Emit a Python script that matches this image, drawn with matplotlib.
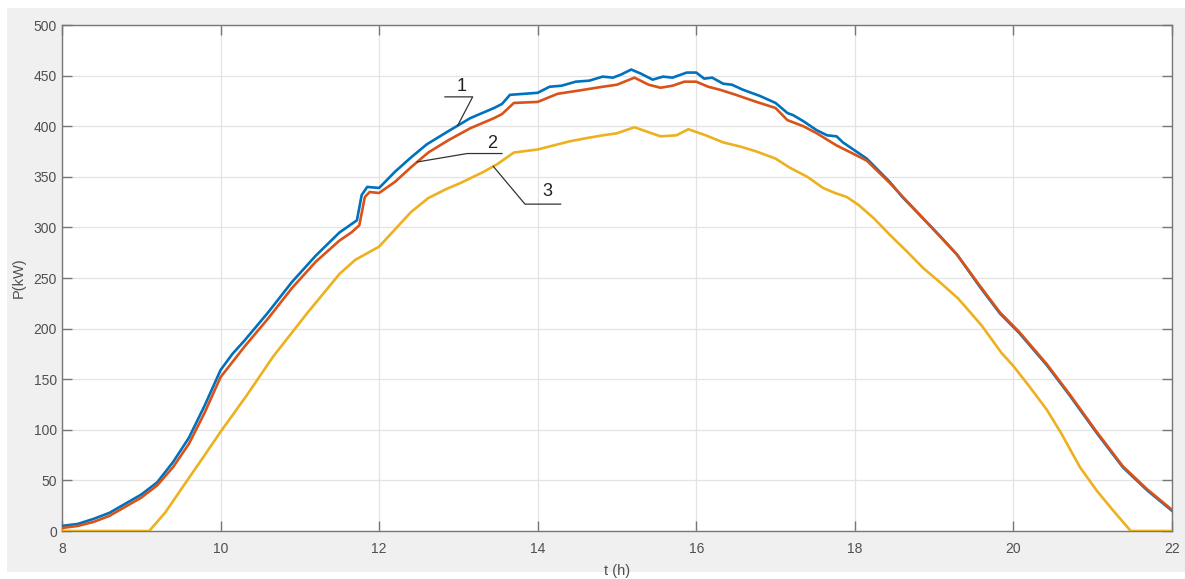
import numpy as np
import matplotlib
matplotlib.use("Agg")
import matplotlib.pyplot as plt
from matplotlib.patches import Rectangle

plt.rcParams['font.family'] = ['Liberation Sans', 'DejaVu Sans']

# curve 1 (blue)
t1 = [8.0, 8.2, 8.4, 8.6, 8.8, 9.0, 9.2, 9.4, 9.6, 9.8, 10.0, 10.15, 10.3, 10.6,
      10.9, 11.2, 11.5, 11.72, 11.78, 11.85, 12.0, 12.2, 12.4, 12.6, 12.85, 13.15,
      13.45, 13.55, 13.65, 14.0, 14.15, 14.3, 14.48, 14.65, 14.82, 14.95, 15.05,
      15.18, 15.3, 15.45, 15.58, 15.7, 15.88, 16.0, 16.1, 16.2, 16.34, 16.45,
      16.59, 16.8, 17.0, 17.15, 17.22, 17.35, 17.52, 17.65, 17.77, 17.85, 18.0,
      18.15, 18.44, 18.6, 18.86, 19.08, 19.29, 19.58, 19.83, 20.07, 20.42, 20.71,
      21.05, 21.38, 21.69, 22.0]
p1 = [5, 7, 12, 18, 27, 36, 48, 68, 92, 124, 159, 175, 188, 216,
      246, 272, 295, 307, 332, 340, 339, 355, 369, 382, 394, 408,
      418, 422, 431, 433, 439, 440, 444, 445, 449, 448, 451,
      456, 452, 446, 449, 448, 453, 453, 447, 448, 442, 441,
      436, 430, 423, 413, 411, 405, 396, 391, 390, 384, 376,
      368, 345, 330, 309, 291, 273, 241, 215, 196, 164, 134,
      97, 63, 40, 20]

# curve 2 (red)
t2 = [8.0, 8.2, 8.4, 8.6, 8.8, 9.0, 9.2, 9.4, 9.6, 9.8, 10.0, 10.3, 10.6, 10.9,
      11.2, 11.5, 11.65, 11.75, 11.82, 11.88, 12.0, 12.2, 12.41, 12.62, 12.87,
      13.15, 13.45, 13.55, 13.7, 14.0, 14.25, 14.5, 14.82, 15.0, 15.22, 15.4,
      15.55, 15.7, 15.85, 16.0, 16.15, 16.3, 16.5, 16.76, 17.0, 17.15, 17.35,
      17.52, 17.77, 18.0, 18.15, 18.44, 18.86, 19.29, 19.58, 19.83, 20.07, 20.42,
      20.71, 21.05, 21.38, 21.69, 22.0]
p2 = [3, 5, 9, 15, 24, 33, 45, 63, 86, 117, 152, 182, 210, 240,
      266, 287, 295, 302, 330, 335, 334, 345, 360, 374, 386,
      398, 408, 412, 423, 424, 432, 435, 439, 441, 448, 441,
      438, 440, 444, 444, 439, 436, 431, 424, 418, 406, 400,
      393, 381, 372, 366, 344, 309, 273, 242, 216, 197, 165,
      135, 98, 64, 41, 21]

# curve 3 (yellow)
t3 = [8.0, 9.1, 9.3, 9.58, 9.8, 10.0, 10.33, 10.66, 11.09, 11.5, 11.7, 12.0,
      12.2, 12.4, 12.62, 12.85, 13.03, 13.32, 13.5, 13.7, 14.0, 14.2, 14.4, 14.6,
      14.82, 15.0, 15.22, 15.4, 15.55, 15.75, 15.9, 16.12, 16.34, 16.55, 16.76,
      17.0, 17.18, 17.4, 17.6, 17.75, 17.9, 18.05, 18.24, 18.45, 18.66, 18.86,
      19.07, 19.3, 19.49, 19.6, 19.85, 20.0, 20.2, 20.42, 20.6, 20.84, 21.05,
      21.25, 21.48, 22.0]
p3 = [0, 0, 18, 50, 75, 98, 134, 172, 215, 254, 268, 281,
      298, 315, 329, 338, 344, 355, 363, 374, 377, 381, 385, 388,
      391, 393, 399, 394, 390, 391, 397, 391, 384, 380, 375,
      368, 359, 350, 339, 334, 330, 322, 309, 292, 276, 260,
      246, 230, 213, 203, 176, 163, 143, 120, 97, 63, 40,
      21, 0, 0]

labels = ["1", "2", "3"]
colors = ["#0072BD", "#D95319", "#EDB120"]

fig = plt.figure(figsize=(11.85, 5.79), dpi=100, facecolor="white")
fig.patches.append(Rectangle((0.006, 0.012), 0.994, 0.974, transform=fig.transFigure,
                             facecolor="#f0f0f0", edgecolor="none", zorder=-10))
ax = fig.add_axes([0.0523, 0.0829, 0.9367, 0.8739])

for t, p, c in zip([t1, t2, t3], [p1, p2, p3], colors):
    ax.plot(t, p, color=c, lw=1.9, zorder=3)

ax.set_xlim(8, 22)
ax.set_ylim(0, 500)
ax.set_xticks(np.arange(8, 23, 2))
ax.set_yticks(np.arange(0, 501, 50))
ax.grid(True, color="#e3e3e3", lw=0.9)
ax.set_axisbelow(True)
for s in ax.spines.values():
    s.set_color("#777777")
    s.set_linewidth(1.0)
ax.tick_params(direction="in", length=7, width=1.0, color="#777777",
               labelcolor="#505050", labelsize=10, top=True, right=True)
ax.tick_params(axis="x", pad=8)
ax.set_xlabel("t (h)", fontsize=10.5, color="#505050", labelpad=6)
ax.set_ylabel("P(kW)", fontsize=10.5, color="#505050", labelpad=6)

# leader lines with labels; anchors sit on the curves
lc = "#333333"
a1 = 12.99
y1 = np.interp(a1, t1, p1)
ax.plot([12.83, 13.18, a1], [429, 429, y1], color=lc, lw=0.9, zorder=4)
ax.text(13.04, 431, labels[0], fontsize=13, ha="center", va="bottom", color="#222222")

a2 = 12.48
y2 = np.interp(a2, t2, p2)
ax.plot([a2, 13.11, 13.55], [y2, 373, 373], color=lc, lw=0.9, zorder=4)
ax.text(13.42, 375, labels[1], fontsize=13, ha="center", va="bottom", color="#222222")

a3 = 13.44
y3 = np.interp(a3, t3, p3)
ax.plot([a3, 13.84, 14.29], [y3, 323, 323], color=lc, lw=0.9, zorder=4)
ax.text(14.12, 327, labels[2], fontsize=13, ha="center", va="bottom", color="#222222")

fig.savefig("out.png", dpi=100)
